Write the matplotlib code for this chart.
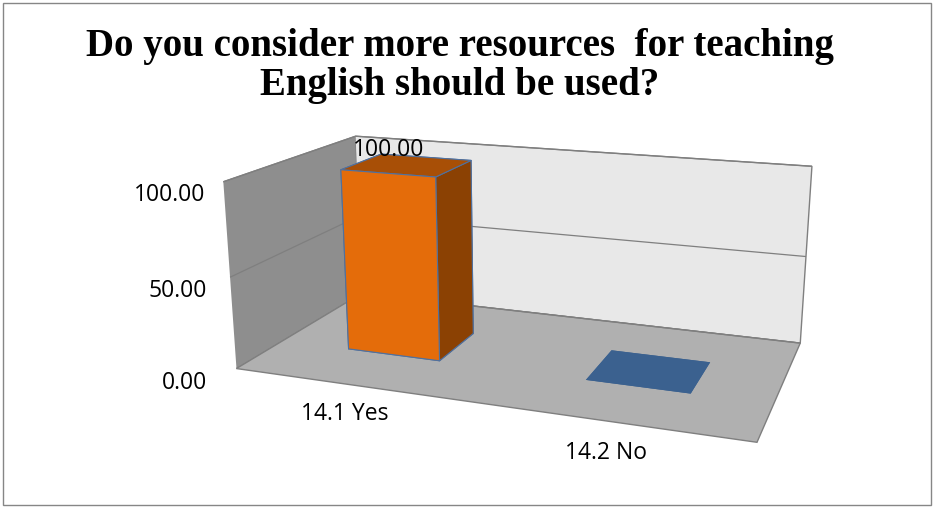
import matplotlib
matplotlib.use('Agg')
import matplotlib.pyplot as plt
from matplotlib.patches import Rectangle

# data
categories = ['14.1 Yes', '14.2 No']
values = [100.0, 0.0]
z_ticks = [0, 50, 100]

front_colors = ['#E46C0A', '#3B618F']
side_colors = ['#8B4103', '#3B618F']
top_colors = ['#A84F06', '#3B618F']
edge_colors = ['#4F71A0', 'none']

fig = plt.figure(figsize=(9.35, 5.08), dpi=100)
fig.patches.append(Rectangle((0.003, 0.005), 0.993, 0.99, transform=fig.transFigure,
                             fill=False, edgecolor='#868686', lw=1))

title_font = dict(ha='center', va='center', fontsize=28, fontweight='bold',
                  family='Liberation Serif')
fig.text(0.492, 0.908, 'Do you consider more resources  for teaching', **title_font)
fig.text(0.492, 0.832, 'English should be used?', **title_font)

ax = fig.add_axes([0.126, -0.028, 0.86, 0.98], projection='3d')
ax.view_init(elev=16, azim=-70)
ax.set_proj_type('persp', focal_length=0.45)
ax.set_box_aspect((578, 300, 212), zoom=1.19)
ax.set_xlim(0, 2)
ax.set_ylim(0, 3)
ax.set_zlim(0, 100)

# bars
for i, v in enumerate(values):
    # face order: bottom, top, front, back, left, right
    fc = [top_colors[i], top_colors[i], front_colors[i], side_colors[i],
          side_colors[i], side_colors[i]]
    ax.bar3d(i + 0.3, 1, 0, 0.4, 1, v, color=fc, shade=False,
             edgecolor=edge_colors[i], linewidth=0.8)
    if v > 0:
        ax.text(i + 0.42, 1.5, v + 1, f'{v:.2f}', ha='center', va='bottom',
                fontsize=16.5, family='Open Sans')

# walls and floor
ax.xaxis.set_pane_color('#8E8E8E')
ax.yaxis.set_pane_color('#E8E8E8')
ax.zaxis.set_pane_color('#B0B0B0')
for axis in (ax.xaxis, ax.yaxis, ax.zaxis):
    axis.pane.set_edgecolor('#7F7F7F')
    axis.line.set_color((0, 0, 0, 0))
    axis._axinfo['tick']['inward_factor'] = 0
    axis._axinfo['tick']['outward_factor'] = 0
ax.xaxis._axinfo['grid']['linewidth'] = 0
ax.yaxis._axinfo['grid']['linewidth'] = 0
ax.zaxis._axinfo['grid']['linewidth'] = 0.9
ax.zaxis._axinfo['grid']['color'] = '#7F7F7F'

ax.set_xticks([0.5, 1.5])
ax.set_xticklabels(categories, fontsize=16.5, family='Open Sans')
ax.set_yticks([])
ax.set_zticks(z_ticks)
ax.set_zticklabels([f'{t:.2f}' for t in z_ticks], fontsize=16.5, family='Open Sans')
ax.zaxis.set_ticks_position('lower')
ax.zaxis.set_tick_params(pad=8)

fig.savefig('out.png', dpi=100)
